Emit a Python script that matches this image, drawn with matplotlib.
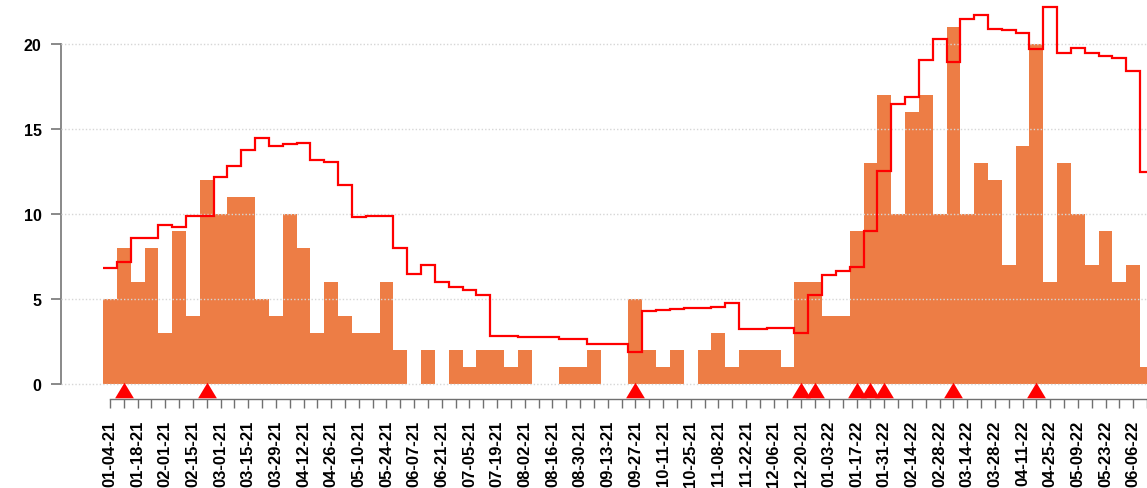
import matplotlib

matplotlib.use("Agg")
import matplotlib.pyplot as plt
import numpy as np

ORANGE = "#ED7D45"
RED = "#FF0000"
GRID = "#d6d6d6"
AXIS = "#707070"

plt.rcParams["font.family"] = ["Liberation Sans", "DejaVu Sans"]

# weekly counts, starting 01-04-21
counts = [5, 8, 6, 8, 3, 9, 4, 12, 10, 11, 11, 5, 4, 10, 8, 3, 6, 4, 3, 3,
          6, 2, 0, 2, 0, 2, 1, 2, 2, 1, 2, 0, 0, 1, 1, 2, 0, 0, 5, 2,
          1, 2, 0, 2, 3, 1, 2, 2, 2, 1, 6, 6, 4, 4, 9, 13, 17, 10, 16, 17,
          10, 21, 10, 13, 12, 7, 14, 20, 6, 13, 10, 7, 9, 6, 7, 1]

# red step line (smoothed level), one value per week
level = [6.8, 7.2, 8.57, 8.57, 9.35, 9.25, 9.86, 9.86, 12.2, 12.8,
         13.76, 14.5, 14.0, 14.1, 14.18, 13.18, 13.04, 11.7, 9.8, 9.86,
         9.9, 8.0, 6.47, 7.0, 5.98, 5.69, 5.53, 5.24, 2.84, 2.84,
         2.75, 2.75, 2.75, 2.65, 2.65, 2.35, 2.33, 2.33, 1.9, 4.27,
         4.37, 4.4, 4.5, 4.45, 4.55, 4.74, 3.24, 3.24, 3.29, 3.29,
         3.0, 5.25, 6.43, 6.67, 6.86, 9.0, 12.55, 16.5, 16.9, 19.06,
         20.3, 18.96, 21.5, 21.7, 20.9, 20.8, 20.65, 19.7, 22.2, 19.47,
         19.76, 19.47, 19.27, 19.18, 18.4, 12.5]

# weeks flagged with a red triangle
flag_weeks = [1, 7, 38, 50, 51, 54, 55, 56, 61, 67]

tick_labels = ["01-04-21", "01-18-21", "02-01-21", "02-15-21", "03-01-21",
               "03-15-21", "03-29-21", "04-12-21", "04-26-21", "05-10-21",
               "05-24-21", "06-07-21", "06-21-21", "07-05-21", "07-19-21",
               "08-02-21", "08-16-21", "08-30-21", "09-13-21", "09-27-21",
               "10-11-21", "10-25-21", "11-08-21", "11-22-21", "12-06-21",
               "12-20-21", "01-03-22", "01-17-22", "01-31-22", "02-14-22",
               "02-28-22", "03-14-22", "03-28-22", "04-11-22", "04-25-22",
               "05-09-22", "05-23-22", "06-06-22"]

n = len(counts)
weeks = np.arange(n)

fig = plt.figure(figsize=(11.47, 4.89), dpi=100)
ax = fig.add_axes([61 / 1147, 89 / 489, 1 - 61 / 1147, 400 / 489])

ax.bar(weeks, counts, width=1.0, color=ORANGE, linewidth=0, zorder=2)
ax.stairs(level, np.arange(n + 1) - 0.5, baseline=None, color=RED,
          linewidth=1.6, zorder=4)

tri = [(-1, -0.83), (1, -0.83), (0, 0.83)]
ax.plot(flag_weeks, [-0.38] * len(flag_weeks), linestyle="none", marker=tri,
        markersize=13.5, color=RED, markeredgewidth=0, clip_on=False, zorder=5)

ax.set_xlim(-3.54, 74.87)
ax.set_ylim(-15 / 17, 385 / 17)

for y in range(0, 21, 5):
    ax.axhline(y, color=GRID, linestyle=(0, (1, 1.5)), linewidth=1.0, zorder=3)

ax.spines["top"].set_visible(False)
ax.spines["right"].set_visible(False)
ax.spines["left"].set_bounds(0, 20)
ax.spines["left"].set_color("#808080")
ax.spines["left"].set_linewidth(1.3)
ax.spines["bottom"].set_bounds(0, n - 1)
ax.spines["bottom"].set_color(AXIS)
ax.spines["bottom"].set_linewidth(1.0)

ax.set_yticks(range(0, 21, 5))
ax.set_yticklabels([str(v) for v in range(0, 21, 5)], fontsize=11.5,
                   fontweight="bold")
ax.tick_params(axis="y", length=7, width=1.3, color="#808080", pad=7)

ax.set_xticks(weeks[::2])
ax.set_xticks(weeks[1::2], minor=True)
ax.set_xticklabels(tick_labels, rotation=90, fontsize=12, fontweight="bold",
                   va="top")
ax.tick_params(axis="x", which="both", length=6.5, width=1.0, color=AXIS,
               pad=8.5)

fig.savefig("out.png", dpi=100)
